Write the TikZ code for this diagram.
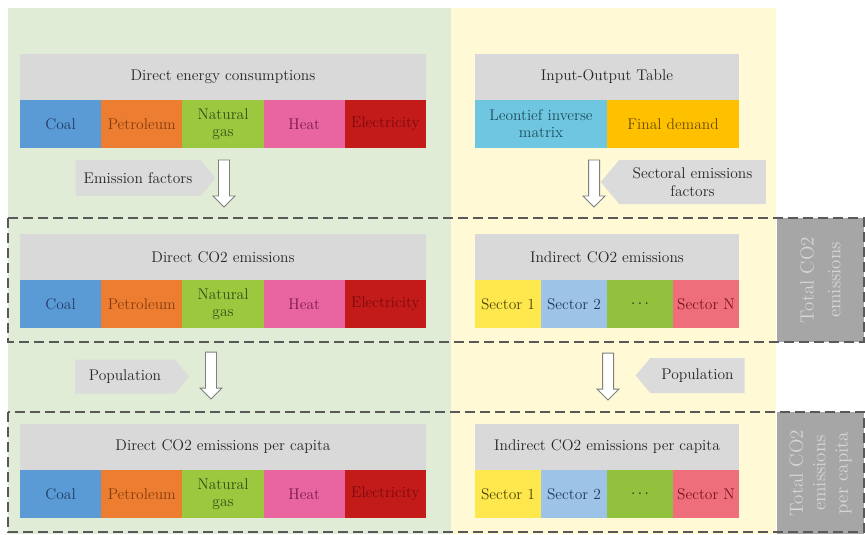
\documentclass[tikz,border=0pt]{standalone}
\usepackage{tikz}
\definecolor{ink}{HTML}{262626}
\definecolor{greenbg}{HTML}{E0ECD5}
\definecolor{yellowbg}{HTML}{FFF9D5}
\definecolor{headgray}{HTML}{D9D9D9}
\definecolor{taggray}{HTML}{DBDBDB}
\definecolor{totgray}{HTML}{A6A6A6}
\definecolor{tottext}{HTML}{D6D6D6}
\definecolor{dashc}{HTML}{595959}
\definecolor{arrowc}{HTML}{7F7F7F}
\definecolor{coalf}{HTML}{5B9BD5}
\definecolor{coalt}{HTML}{1F3864}
\definecolor{petrof}{HTML}{ED7D31}
\definecolor{petrot}{HTML}{843C0C}
\definecolor{gasf}{HTML}{9BC83E}
\definecolor{gast}{HTML}{2F4F1A}
\definecolor{heatf}{HTML}{E965A0}
\definecolor{heatt}{HTML}{7A1A4A}
\definecolor{elecf}{HTML}{C31A1A}
\definecolor{elect}{HTML}{7B0A0A}
\definecolor{leonf}{HTML}{6FC6E0}
\definecolor{leont}{HTML}{1E4D5C}
\definecolor{demf}{HTML}{FFC000}
\definecolor{demt}{HTML}{6B4A00}
\definecolor{secaf}{HTML}{FFE84D}
\definecolor{secat}{HTML}{4A4400}
\definecolor{secbf}{HTML}{9DC3E6}
\definecolor{secbt}{HTML}{1F3864}
\definecolor{seccf}{HTML}{92C13E}
\definecolor{secnf}{HTML}{EE6F7B}
\definecolor{secnt}{HTML}{7B1020}
\usetikzlibrary{
  positioning,
  calc,
  shapes.symbols
}
\newcommand{\pxu}{0.025cm}
\tikzset{
  every node/.style={font=\fontsize{11}{13}\selectfont, text=ink},
  head/.style={fill=headgray, minimum width=406*\pxu, minimum height=46*\pxu, inner sep=0pt},
  headR/.style={head, minimum width=264*\pxu},
  cell/.style={minimum width=81.2*\pxu, minimum height=48*\pxu, inner sep=0pt, align=center},
  coal/.style={cell, fill=coalf, text=coalt},
  petro/.style={cell, fill=petrof, text=petrot},
  gas/.style={cell, fill=gasf, text=gast, font=\fontsize{11}{12}\selectfont},
  heat/.style={cell, fill=heatf, text=heatt},
  elec/.style={cell, fill=elecf, text=elect},
  leon/.style={cell, minimum width=132*\pxu, fill=leonf, text=leont, font=\fontsize{11}{12}\selectfont},
  demand/.style={cell, minimum width=132*\pxu, fill=demf, text=demt},
  secA/.style={cell, minimum width=66*\pxu, fill=secaf, text=secat},
  secB/.style={cell, minimum width=66*\pxu, fill=secbf, text=secbt},
  secC/.style={cell, minimum width=66*\pxu, fill=seccf, text=ink},
  secN/.style={cell, minimum width=66*\pxu, fill=secnf, text=secnt},
  tag/.style={signal, signal pointer angle=100, fill=taggray, inner sep=0pt, align=center,
    font=\fontsize{11}{12.5}\selectfont},
  total/.style={fill=totgray, text=tottext, rotate=90, align=center, inner sep=0pt,
    font=\fontsize{13.5}{19}\selectfont},
  dashbox/.style={draw=dashc, line width=1pt, dash pattern=on 10*\pxu off 5*\pxu},
  downarr/.pic={
    \draw[fill=white, draw=arrowc, line width=0.7pt]
      (-5.5,0) -- (5.5,0) -- (5.5,36) -- (11,36) -- (0,47) -- (-11,36) -- (-5.5,36) -- cycle;
  }
}

\begin{document}
\begin{tikzpicture}[x=\pxu, y=-\pxu]
  \useasboundingbox (0,0) rectangle (865,534);
  \fill[greenbg] (8,8) rectangle (451,534);
  \fill[yellowbg] (451,8) rectangle (776,534);

  \node[total, minimum width=124*\pxu, minimum height=87*\pxu] (tot1) at (820.5,280) {Total CO2\\emissions};
  \node[total, minimum width=122*\pxu, minimum height=87*\pxu] (tot2) at (820.5,473) {Total CO2\\[-3pt]emissions\\[-3pt]per capita};
  \draw[dashbox] (8,218) rectangle (864,342);
  \draw[dashbox] (8,412) rectangle (864,532);

  % Direct energy side
  \node[head] (dec) at (223,77) {Direct energy consumptions};
  \node[coal] (coal1) at (60.6,124) {Coal};
  \node[petro] (pet1) at (141.8,124) {Petroleum};
  \node[gas] (gas1) at (223,124) {Natural\\gas};
  \node[heat] (heat1) at (304.2,124) {Heat};
  \node[elec] (ele1) at (385.4,124) {Electricity};

  \node[head] (dce) at (223,257) {Direct CO2 emissions};
  \node[coal] (coal2) at (60.6,304) {Coal};
  \node[petro] (pet2) at (141.8,304) {Petroleum};
  \node[gas] (gas2) at (223,304) {Natural\\gas};
  \node[heat] (heat2) at (304.2,304) {Heat};
  \node[elec] (ele2) at (385.4,304) {Electricity};

  \node[head] (dcp) at (223,447) {Direct CO2 emissions per capita};
  \node[coal] (coal3) at (60.6,494) {Coal};
  \node[petro] (pet3) at (141.8,494) {Petroleum};
  \node[gas] (gas3) at (223,494) {Natural\\gas};
  \node[heat] (heat3) at (304.2,494) {Heat};
  \node[elec] (ele3) at (385.4,494) {Electricity};

  % Input-output side
  \node[headR] (iot) at (607,77) {Input-Output Table};
  \node[leon] (leon) at (541,124) {Leontief inverse\\matrix};
  \node[demand] (fd) at (673,124) {Final demand};

  \node[headR] (ice) at (607,257) {Indirect CO2 emissions};
  \node[secA] (s1a) at (508,304) {Sector 1};
  \node[secB] (s2a) at (574,304) {Sector 2};
  \node[secC] (sda) at (640,304) {$\cdots$};
  \node[secN] (sna) at (706,304) {Sector N};

  \node[headR] (icp) at (607,447) {Indirect CO2 emissions per capita};
  \node[secA] (s1b) at (508,494) {Sector 1};
  \node[secB] (s2b) at (574,494) {Sector 2};
  \node[secC] (sdb) at (640,494) {$\cdots$};
  \node[secN] (snb) at (706,494) {Sector N};

  % Factors
  \node[tag, signal to=east, minimum width=140*\pxu, minimum height=36*\pxu] (ef) at (138,178) {Emission factors};
  \node[tag, signal to=west, minimum width=165*\pxu, minimum height=44*\pxu] (sef) at (692.5,182) {Sectoral emissions\\factors};
  \node[tag, signal to=east, minimum width=114*\pxu, minimum height=34*\pxu] (pop1) at (125,376.5) {Population};
  \node[tag, signal to=west, minimum width=109*\pxu, minimum height=35*\pxu] (pop2) at (697.5,375.5) {Population};

  \pic at (224,160) {downarr};
  \pic at (594,160) {downarr};
  \pic at (211,352) {downarr};
  \pic at (608,353) {downarr};
\end{tikzpicture}
\end{document}
